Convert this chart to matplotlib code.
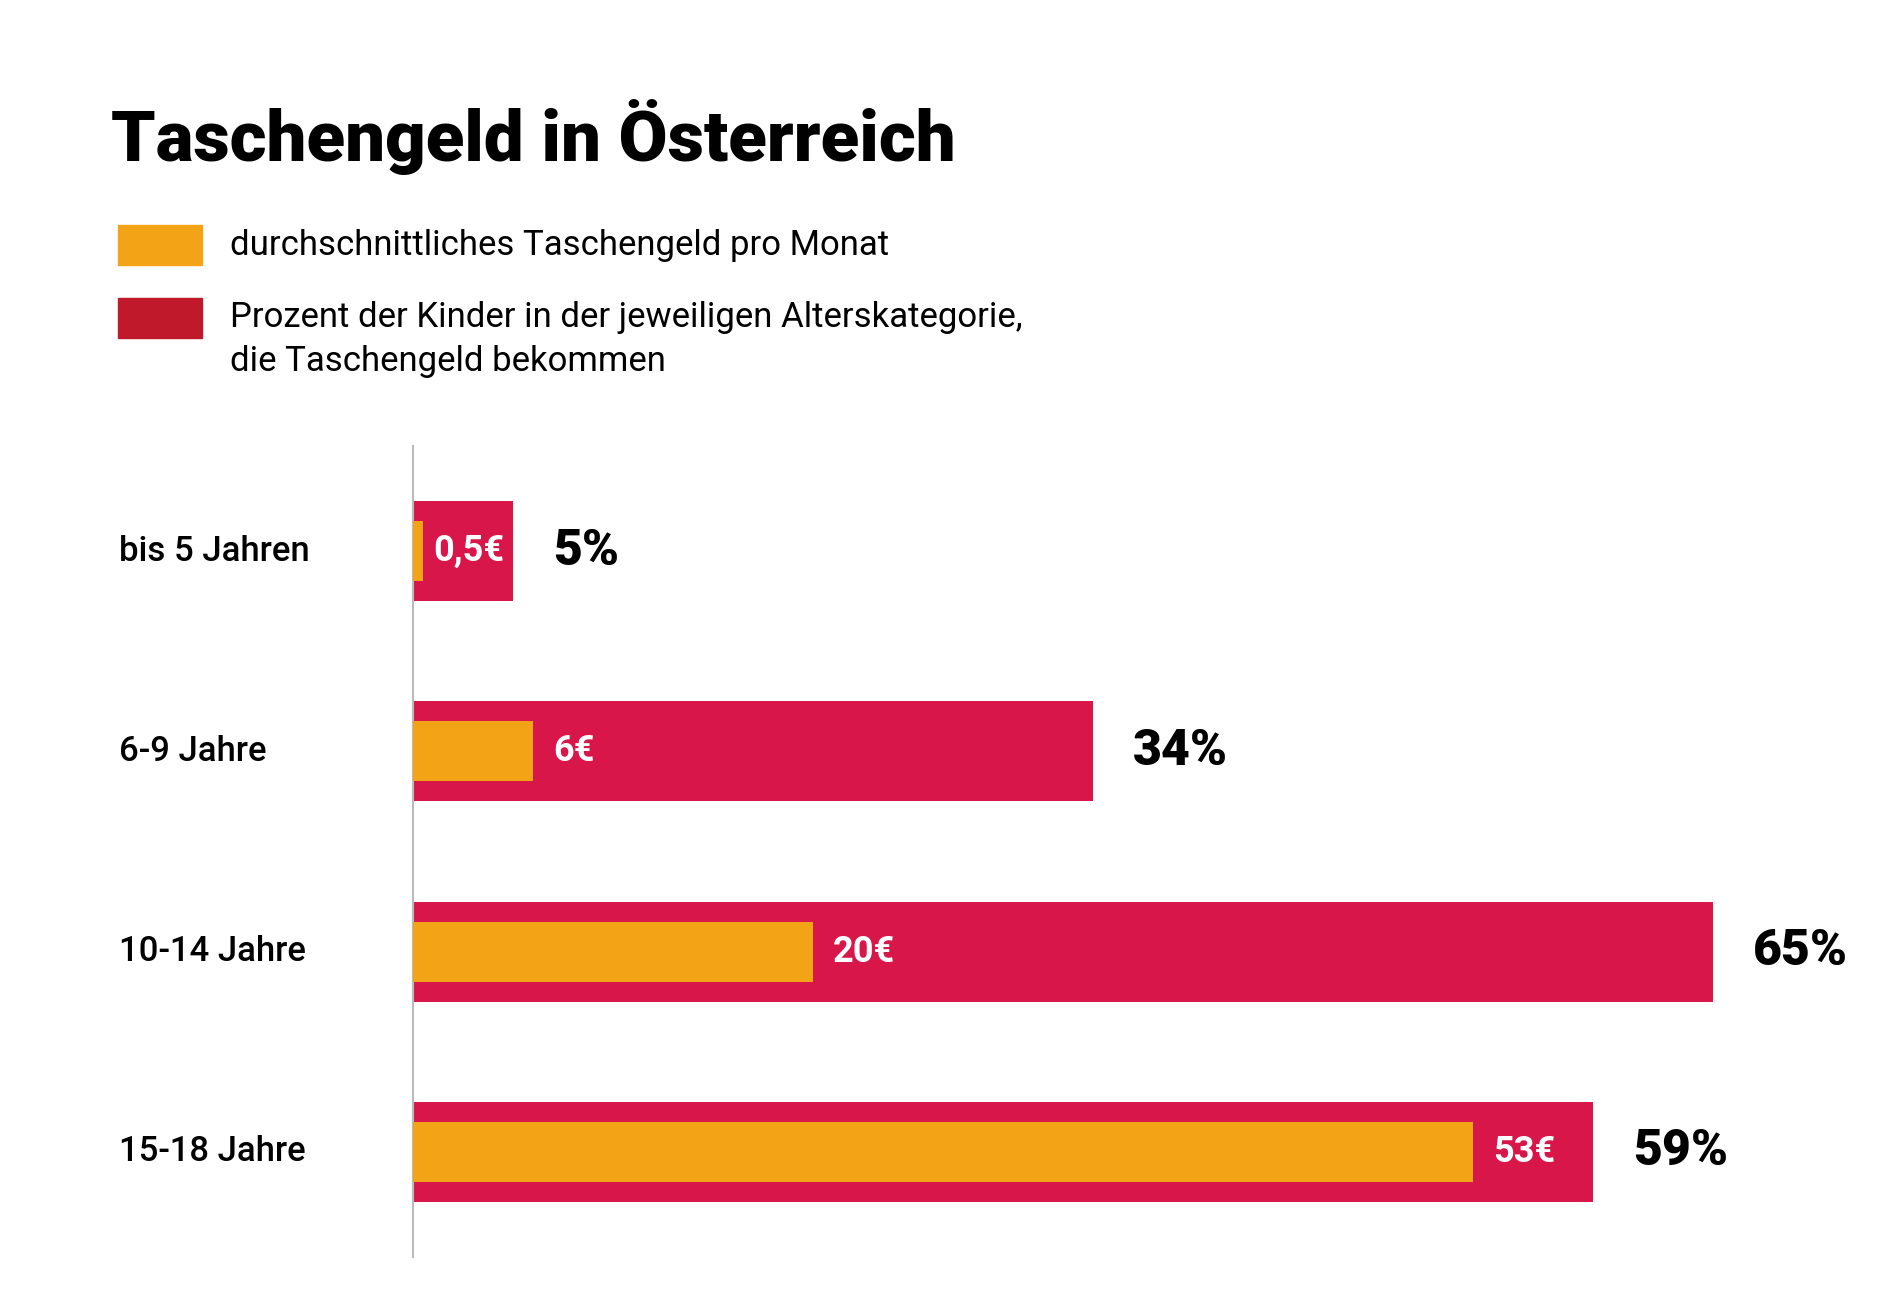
import matplotlib
matplotlib.use("Agg")
import matplotlib.pyplot as plt
from matplotlib.transforms import blended_transform_factory

# Daten
kategorien = ["bis 5 Jahren", "6-9 Jahre", "10-14 Jahre", "15-18 Jahre"]
prozent = [5, 34, 65, 59]            # Prozent der Kinder mit Taschengeld
taschengeld = [0.5, 6, 20, 53]       # Euro pro Monat
euro_labels = ["0,5€", "6€", "20€", "53€"]

ROT = "#D9164A"
ROT_LEGENDE = "#C0192B"
ORANGE = "#F2A316"

plt.rcParams["font.family"] = ["Roboto", "DejaVu Sans"]

W, H = 1900, 1301
fig = plt.figure(figsize=(W / 100, H / 100), dpi=100)

# Achse: links bei 413 px, 20 px pro Einheit
ax = fig.add_axes([413 / W, 44 / H, 1500 / W, 811 / H])
ax.set_xlim(0, 75)
ax.set_ylim(3.525, -0.525)

y = list(range(len(kategorien)))
ax.barh(y, prozent, height=0.5, color=ROT, zorder=2)
ax.barh(y, taschengeld, height=0.3, color=ORANGE, zorder=3)

for i in y:
    off = 1.0 if taschengeld[i] >= 1 else 0.5
    ax.text(taschengeld[i] + off, i, euro_labels[i], color="white",
            fontsize=26, fontweight="bold", va="center", ha="left", zorder=4)
    ax.text(prozent[i] + 2, i, f"{prozent[i]}%", color="black",
            fontsize=36, fontweight="black", va="center", ha="left")

trans = blended_transform_factory(fig.transFigure, ax.transData)
for i, k in enumerate(kategorien):
    ax.text(119 / W, i, k, transform=trans, fontsize=25, fontweight="medium",
            va="center", ha="left")

for s in ["top", "right", "bottom"]:
    ax.spines[s].set_visible(False)
ax.spines["left"].set_color("#BBBBBB")
ax.spines["left"].set_linewidth(1.5)
ax.set_xticks([])
ax.set_yticks([])

# Titel
fig.text(111 / W, 1 - 161 / H, "Taschengeld in Österreich", fontsize=51,
         fontweight="black", va="baseline", ha="left")

# Legende
fig.patches.append(plt.Rectangle((118 / W, 1 - 265 / H), 84 / W, 40 / H,
                                 transform=fig.transFigure, color=ORANGE))
fig.patches.append(plt.Rectangle((118 / W, 1 - 338 / H), 84 / W, 40 / H,
                                 transform=fig.transFigure, color=ROT_LEGENDE))
fig.text(230 / W, 1 - 246 / H, "durchschnittliches Taschengeld pro Monat",
         fontsize=25, va="center", ha="left")
fig.text(230 / W, 1 - 317 / H, "Prozent der Kinder in der jeweiligen Alterskategorie,",
         fontsize=25, va="center", ha="left")
fig.text(230 / W, 1 - 361 / H, "die Taschengeld bekommen",
         fontsize=25, va="center", ha="left")

fig.savefig("out.png", dpi=100)
